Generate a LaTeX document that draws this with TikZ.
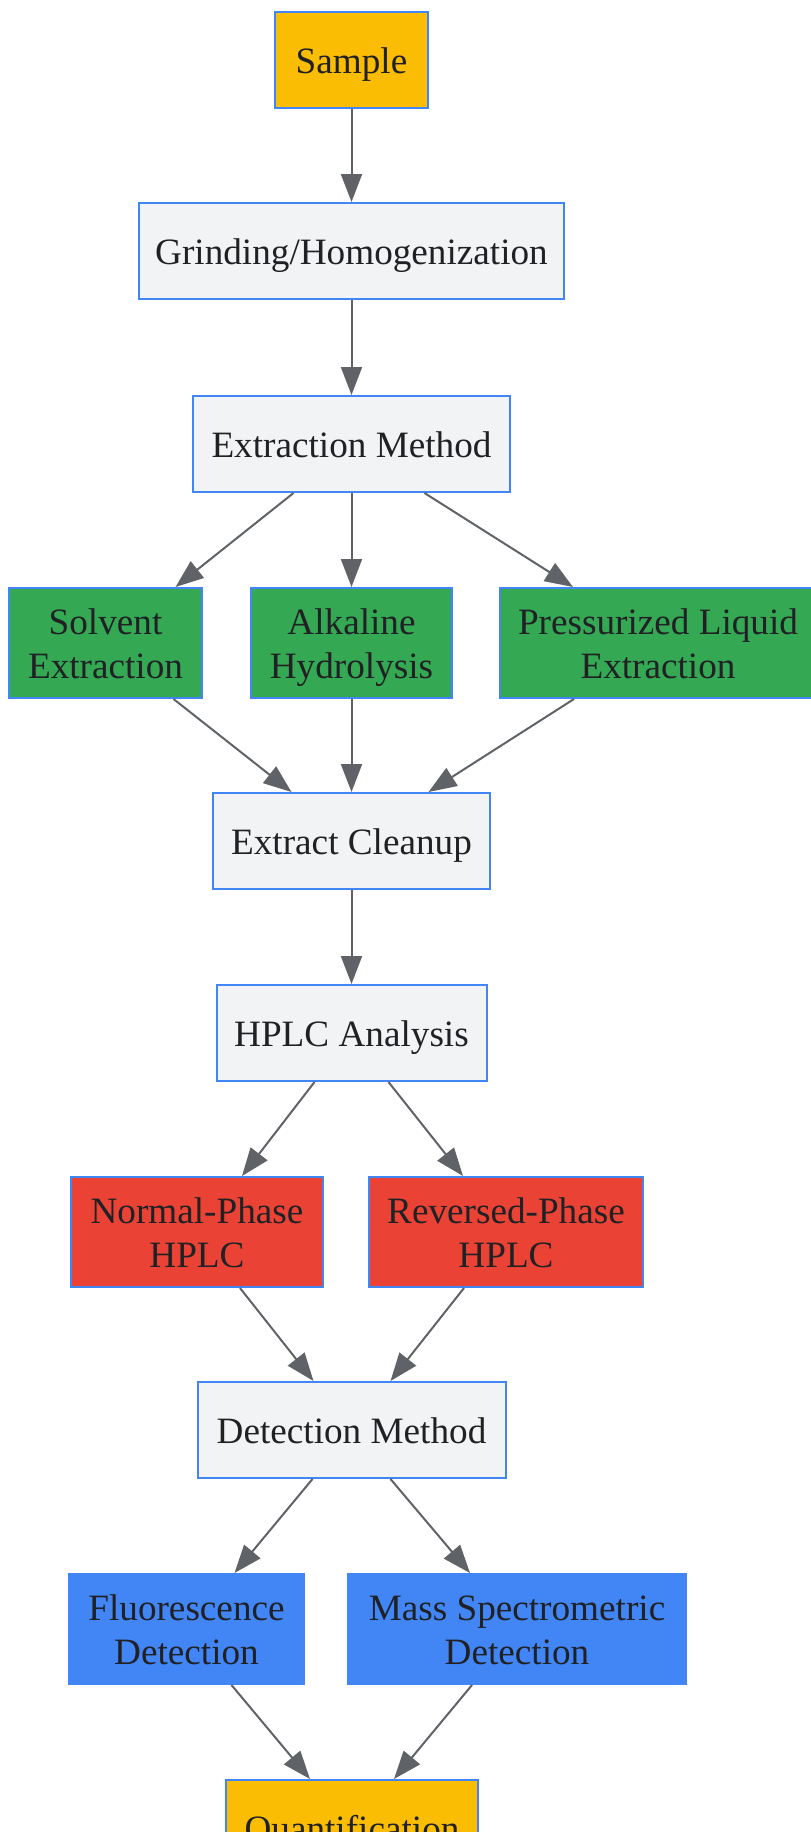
\documentclass[tikz,border=0pt]{standalone}
\usepackage{fontspec}
\setmainfont{Liberation Serif}
\usetikzlibrary{arrows.meta}
\definecolor{bordblue}{HTML}{4285F4}
\definecolor{grayfill}{HTML}{F1F3F4}
\definecolor{yellowfill}{HTML}{FBBC04}
\definecolor{greenfill}{HTML}{34A853}
\definecolor{redfill}{HTML}{EA4335}
\definecolor{bluefill}{HTML}{4285F4}
\definecolor{textcol}{HTML}{202124}
\definecolor{arrowcol}{HTML}{5F6368}
\newcommand{\lstrut}{\rule[-8.5pt]{0pt}{44pt}}
\tikzset{
  box/.style={draw=bordblue, line width=2pt, rectangle, inner sep=0pt, align=center,
    text=textcol, font=\fontsize{37.2}{44}\selectfont},
  graybox/.style={box, fill=grayfill},
  yellowbox/.style={box, fill=yellowfill},
  greenbox/.style={box, fill=greenfill},
  redbox/.style={box, fill=redfill},
  bluebox/.style={box, fill=bluefill},
  conn/.style={draw=arrowcol, line width=2pt, -{Triangle[length=28pt,width=21pt]}, fill=arrowcol}
}
\begin{document}
\begin{tikzpicture}[x=1pt,y=-1pt]
\useasboundingbox (0,0) rectangle (811,1832);
\node[yellowbox, minimum width=153pt, minimum height=96pt] (sample) at (351.5,60) {\lstrut Sample};
\node[graybox, minimum width=425pt, minimum height=96pt] (grind) at (351.5,251) {\lstrut Grinding/Homogenization};
\node[graybox, minimum width=317pt, minimum height=96pt] (em) at (351.5,444) {\lstrut Extraction Method};
\node[greenbox, minimum width=193pt, minimum height=110pt] (sol) at (105.5,643) {\lstrut Solvent\\\lstrut Extraction};
\node[greenbox, minimum width=201pt, minimum height=110pt] (alk) at (351.5,643) {\lstrut Alkaline\\\lstrut Hydrolysis};
\node[greenbox, minimum width=316pt, minimum height=110pt] (ple) at (658,643) {\lstrut Pressurized Liquid\\\lstrut Extraction};
\node[graybox, minimum width=277pt, minimum height=96pt] (clean) at (351.5,841) {\lstrut Extract Cleanup};
\node[graybox, minimum width=270pt, minimum height=96pt] (hplc) at (351.5,1033) {\lstrut HPLC Analysis};
\node[redbox, minimum width=252pt, minimum height=110pt] (np) at (197,1232) {\lstrut Normal-Phase\\\lstrut HPLC};
\node[redbox, minimum width=274pt, minimum height=110pt] (rp) at (506,1232) {\lstrut Reversed-Phase\\\lstrut HPLC};
\node[graybox, minimum width=308pt, minimum height=96pt] (dm) at (351.5,1430) {\lstrut Detection Method};
\node[bluebox, minimum width=235pt, minimum height=110pt] (fl) at (186.5,1629) {\lstrut Fluorescence\\\lstrut Detection};
\node[bluebox, minimum width=338pt, minimum height=110pt] (ms) at (517,1629) {\lstrut Mass Spectrometric\\\lstrut Detection};
\node[yellowbox, minimum width=252pt, minimum height=96pt] (qt) at (352,1828) {\lstrut Quantification};

\draw[conn] (sample.south) -- (grind.north);
\draw[conn] (grind.south) -- (em.north);
\draw[conn] ([xshift=-58pt]em.south) -- ([xshift=70pt]sol.north);
\draw[conn] (em.south) -- (alk.north);
\draw[conn] ([xshift=73pt]em.south) -- ([xshift=-85pt]ple.north);
\draw[conn] ([xshift=68pt]sol.south) -- ([xshift=-60pt]clean.north);
\draw[conn] (alk.south) -- (clean.north);
\draw[conn] ([xshift=-84pt]ple.south) -- ([xshift=77pt]clean.north);
\draw[conn] (clean.south) -- (hplc.north);
\draw[conn] ([xshift=-37pt]hplc.south) -- ([xshift=45pt]np.north);
\draw[conn] ([xshift=37pt]hplc.south) -- ([xshift=-43pt]rp.north);
\draw[conn] ([xshift=43pt]np.south) -- ([xshift=-38pt]dm.north);
\draw[conn] ([xshift=-42pt]rp.south) -- ([xshift=39pt]dm.north);
\draw[conn] ([xshift=-39pt]dm.south) -- ([xshift=48pt]fl.north);
\draw[conn] ([xshift=39pt]dm.south) -- ([xshift=-47pt]ms.north);
\draw[conn] ([xshift=45pt]fl.south) -- ([xshift=-42pt]qt.north);
\draw[conn] ([xshift=-45pt]ms.south) -- ([xshift=42pt]qt.north);
\end{tikzpicture}
\end{document}
